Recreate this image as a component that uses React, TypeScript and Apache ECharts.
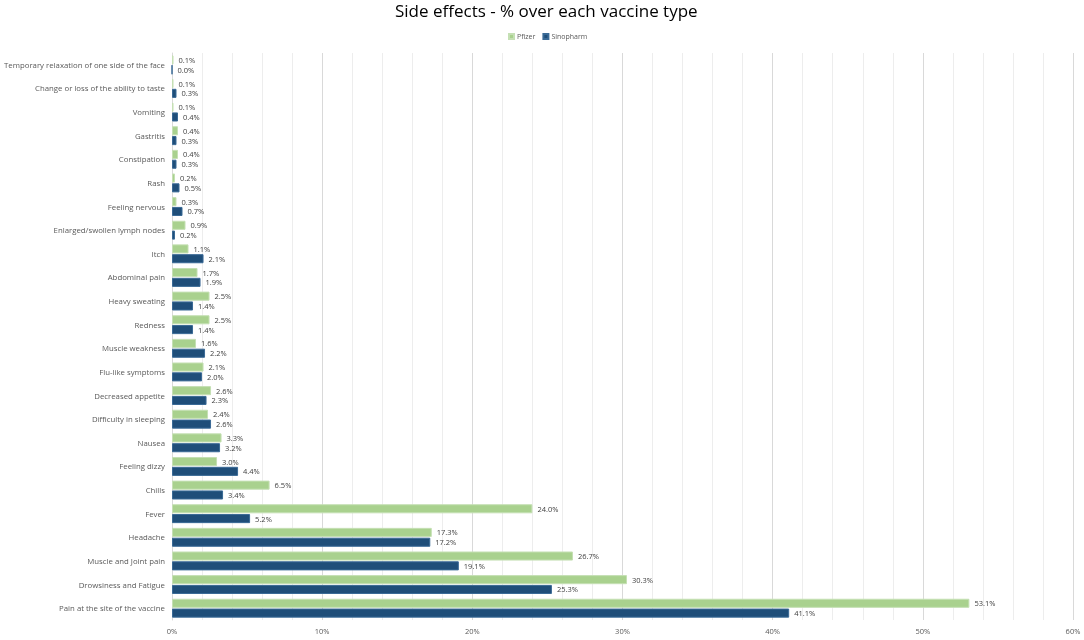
import React, { useEffect, useRef } from "react";
import * as echarts from "echarts";

const categories = [
  "Temporary relaxation of one side of the face",
  "Change or loss of the ability to taste",
  "Vomiting",
  "Gastritis",
  "Constipation",
  "Rash",
  "Feeling nervous",
  "Enlarged/swollen lymph nodes",
  "Itch",
  "Abdominal pain",
  "Heavy sweating",
  "Redness",
  "Muscle weakness",
  "Flu-like symptoms",
  "Decreased appetite",
  "Difficulty in sleeping",
  "Nausea",
  "Feeling dizzy",
  "Chills",
  "Fever",
  "Headache",
  "Muscle and Joint pain",
  "Drowsiness and Fatigue",
  "Pain at the site of the vaccine",
];

const pfizer = [0.1, 0.1, 0.1, 0.4, 0.4, 0.2, 0.3, 0.9, 1.1, 1.7, 2.5, 2.5, 1.6, 2.1, 2.6, 2.4, 3.3, 3.0, 6.5, 24.0, 17.3, 26.7, 30.3, 53.1];
const sinopharm = [0.0, 0.3, 0.4, 0.3, 0.3, 0.5, 0.7, 0.2, 2.1, 1.9, 1.4, 1.4, 2.2, 2.0, 2.3, 2.6, 3.2, 4.4, 3.4, 5.2, 17.2, 19.1, 25.3, 41.1];

const FONT = "'Open Sans', sans-serif";

export default function App() {
  const ref = useRef<HTMLDivElement>(null);
  useEffect(() => {
    if (!ref.current) return;
    const chart = echarts.init(ref.current, undefined, { renderer: "svg" });
    const labelCfg = {
      show: true,
      position: "right" as const,
      distance: 5,
      fontSize: 7.5,
      color: "#404040",
      fontFamily: FONT,
      formatter: (p: any) => Number(p.value).toFixed(1) + "%",
    };
    chart.setOption({
      animation: false,
      textStyle: { fontFamily: FONT },
      title: {
        text: "Side effects - % over each vaccine type",
        left: 390,
        top: -3,
        textStyle: { fontSize: 17, fontWeight: "normal", color: "#000", fontFamily: FONT },
      },
      legend: {
        top: 28,
        left: 503,
        icon: "rect",
        itemWidth: 5,
        itemHeight: 5,
        itemGap: 7,
        textStyle: { fontSize: 7, color: "#595959", fontFamily: FONT, padding: [0, 0, 0, -2] },
        data: ["Pfizer", "Sinopharm"],
      },
      grid: { left: 172, right: 11, top: 53, bottom: 20, containLabel: false },
      xAxis: {
        type: "value",
        min: 0,
        max: 60,
        interval: 10,
        axisLabel: {
          formatter: (v: number) => v + "%",
          fontSize: 7.5,
          color: "#595959",
          fontFamily: FONT,
          margin: 7,
        },
        axisLine: { show: false },
        axisTick: { show: false },
        splitLine: { show: true, lineStyle: { color: "#d9d9d9", width: 1 } },
        minorTick: { show: false, splitNumber: 5 },
        minorSplitLine: { show: true, lineStyle: { color: "#ededed", width: 1 } },
      },
      yAxis: {
        type: "category",
        inverse: true,
        data: categories,
        axisLine: { show: true, lineStyle: { color: "#d9d9d9" } },
        axisTick: { show: false },
        axisLabel: { fontSize: 7.8, color: "#595959", fontFamily: FONT, margin: 7 },
      },
      series: [
        {
          name: "Pfizer",
          type: "bar",
          data: pfizer,
          barGap: "8%",
          barCategoryGap: "20%",
          itemStyle: { color: "#a9d18e", borderColor: "#c5e0b4", borderWidth: 1 },
          label: labelCfg,
        },
        {
          name: "Sinopharm",
          type: "bar",
          data: sinopharm,
          barGap: "8%",
          barCategoryGap: "20%",
          itemStyle: { color: "#1f4e79", borderColor: "#3a6a96", borderWidth: 1 },
          label: labelCfg,
        },
      ],
    });
    return () => chart.dispose();
  }, []);
  return (
    <div
      ref={ref}
      style={{ position: "fixed", left: 0, top: 0, width: 1084, height: 640 }}
    />
  );
}
